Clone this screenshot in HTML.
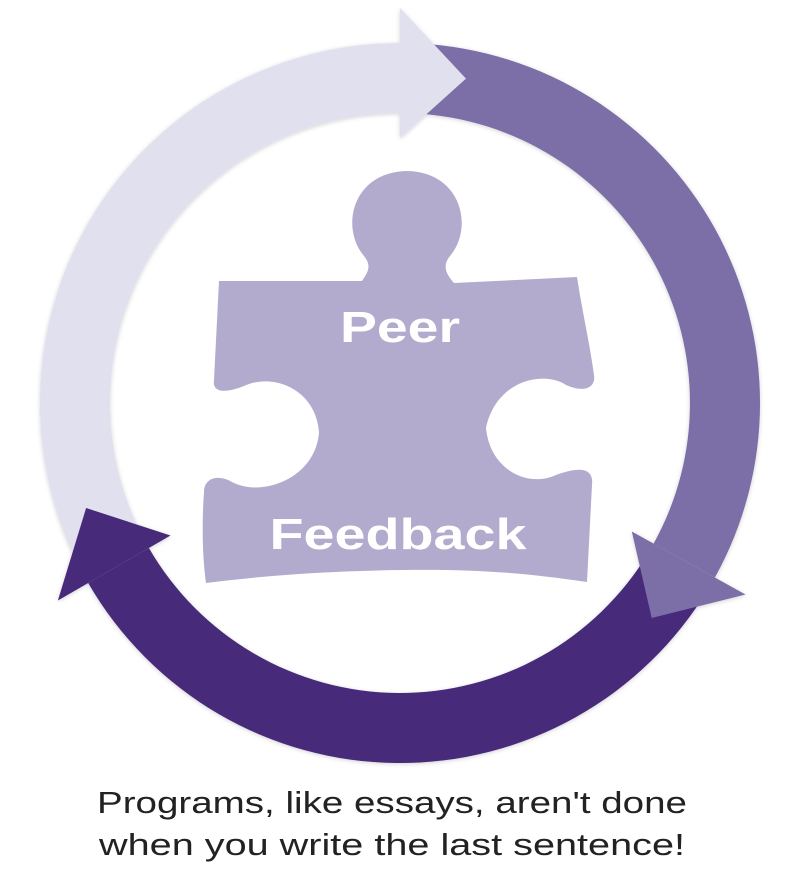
<!DOCTYPE html>
<html><head><meta charset="utf-8"><style>
html,body{margin:0;padding:0;background:#fff;}
svg{display:block;}
</style></head><body>
<svg id="d" width="800" height="888" viewBox="0 0 800 888">
<defs>
<filter id="sh" x="-10%" y="-10%" width="120%" height="120%"><feDropShadow dx="0" dy="1" stdDeviation="2" flood-color="#000" flood-opacity="0.18"/></filter>
</defs>
<g id="arrows" filter="url(#sh)"></g>
<path fill="#b2abcd"
d="M219,281 L362,281 C368,272 372,266 364,256 C340,228 352,172 407,171 C462,172 474,228 450,256 C442,266 446,274 454,283 L577,277 C582,310 590,345 594,375 C596,388 584,393 566,385 C544,370 496,380 486,428 C490,470 528,488 556,475 C580,466 594,468 592,485 L587,582 C520,572 470,569 400,570 C330,571 270,575 206,583 C202,555 202,520 204,492 C204,478 218,474 232,482 C262,498 316,478 319,432 C316,390 274,372 244,386 C224,394 212,392 214,380 Z"/>
<text x="400" y="342" text-anchor="middle" font-family="Liberation Sans, sans-serif" font-weight="bold" font-size="44" fill="#fff" textLength="120" lengthAdjust="spacingAndGlyphs">Peer</text>
<text x="398" y="549" text-anchor="middle" font-family="Liberation Sans, sans-serif" font-weight="bold" font-size="44" fill="#fff" textLength="257" lengthAdjust="spacingAndGlyphs">Feedback</text>
<text x="392" y="813" text-anchor="middle" font-family="Liberation Sans, sans-serif" font-size="31" fill="#222" textLength="590" lengthAdjust="spacingAndGlyphs">Programs, like essays, aren't done</text>
<text x="392" y="855" text-anchor="middle" font-family="Liberation Sans, sans-serif" font-size="31" fill="#222" textLength="586" lengthAdjust="spacingAndGlyphs">when you write the last sentence!</text>
</svg>
<script>
const arcNames = ['light-arrow','medium-arrow','dark-arrow'];
const arcStart = [236, 3, 121];
const arcEnd = [360, 119, 240];
const arcColor = ['#e1e0ee','#7b6ea6','#47297a'];
const cx=400, cy=403, rIn=290, rOut=360, hIn=265, hOut=395, hMid=331, headSpan=11.5;
function pt(r,t){const a=t*Math.PI/180;return [(cx+r*Math.sin(a)).toFixed(1),(cy-r*Math.cos(a)).toFixed(1)];}
const g=document.getElementById('arrows');
const NS='http://www.w3.org/2000/svg';
const bodies=[],heads=[];
for(let i=0;i<arcNames.length;i++){
  const a=arcStart[i], b=arcEnd[i], large=(b-a)>180?1:0;
  const p1=pt(rOut,a),p2=pt(rOut,b),p3=pt(rIn,b),p4=pt(rIn,a);
  const body=document.createElementNS(NS,'path');
  body.setAttribute('d',`M${p1} A${rOut},${rOut} 0 ${large} 1 ${p2} L${p3} A${rIn},${rIn} 0 ${large} 0 ${p4} Z`);
  body.setAttribute('fill',arcColor[i]);
  
  
  bodies.push(body);
  const h1=pt(hIn,b),h2=pt(hOut,b),h3=pt(hMid,b+headSpan);
  const head=document.createElementNS(NS,'path');
  head.setAttribute('d',`M${h1} L${h2} L${h3} Z`);
  head.setAttribute('fill',arcColor[i]);
  
  
  heads.push(head);
}
bodies.forEach(e=>g.appendChild(e));
heads.forEach(e=>g.appendChild(e));
</script>
</body></html>
